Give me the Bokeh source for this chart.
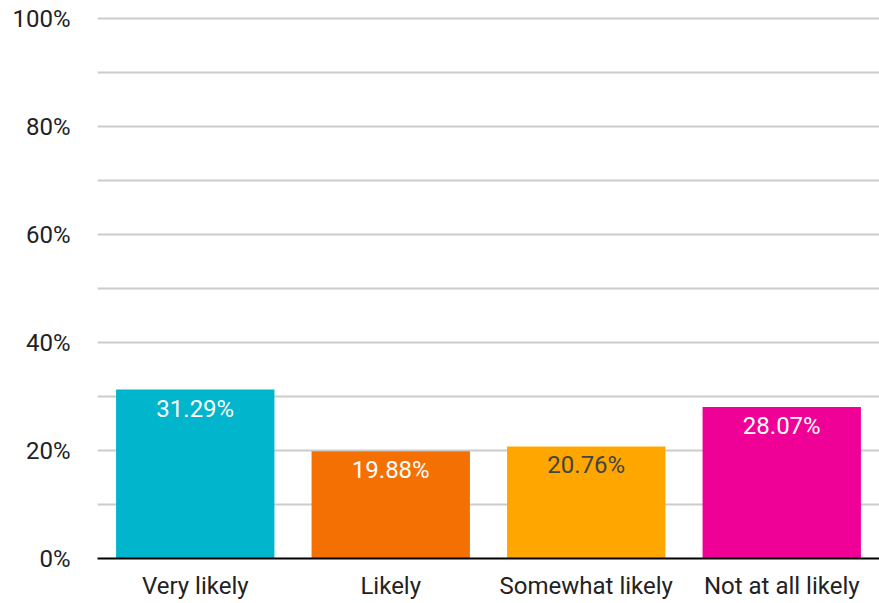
from bokeh.plotting import figure
from bokeh.models import ColumnDataSource, FactorRange, Range1d, FixedTicker, PrintfTickFormatter
from bokeh.core.properties import value
from bokeh.embed import file_html
from bokeh.resources import INLINE

categories = ["Very likely", "Likely", "Somewhat likely", "Not at all likely"]
percentages = [31.29, 19.88, 20.76, 28.07]
bar_colors = ["#00B5CC", "#F57002", "#FFA600", "#EF0096"]
label_colors = ["#FFFFFF", "#FFFFFF", "#444444", "#FFFFFF"]
y_major_ticks = [0, 20, 40, 60, 80, 100]
y_minor_ticks = [10, 30, 50, 70, 90]

FONT = "Roboto"

src = ColumnDataSource(dict(
    cat=categories,
    val=percentages,
    color=bar_colors,
    lcolor=label_colors,
    label=[f"{v:.2f}%" for v in percentages],
))

p = figure(
    x_range=FactorRange(*categories, range_padding=0),
    y_range=Range1d(0, 100.4),
    width=879, height=603,
    output_backend="svg", toolbar_location=None,
    min_border_left=97, min_border_right=0, min_border_top=16, min_border_bottom=45,
)
p.outline_line_color = None
p.background_fill_color = "white"

p.vbar(x="cat", top="val", width=0.81, color="color", line_color=None, source=src)
p.text(x="cat", y="val", text="label", text_color="lcolor", source=src,
       text_align="center", text_baseline="top", y_offset=5,
       text_font=value(FONT), text_font_size="24px")

# grid
p.xgrid.grid_line_color = None
p.ygrid.grid_line_color = "#CCCCCC"
p.ygrid.grid_line_width = 2
p.ygrid.minor_grid_line_color = "#CCCCCC"
p.ygrid.minor_grid_line_width = 2

ticker = FixedTicker(ticks=y_major_ticks, minor_ticks=y_minor_ticks)
p.yaxis.ticker = ticker
p.ygrid.ticker = ticker
p.yaxis.formatter = PrintfTickFormatter(format="%d%%")
p.yaxis.axis_line_color = None
p.yaxis.major_tick_line_color = None
p.yaxis.minor_tick_line_color = None
p.yaxis.major_label_standoff = 21
p.yaxis.major_label_text_font = FONT
p.yaxis.major_label_text_font_size = "24px"
p.yaxis.major_label_text_color = "#222222"

p.xaxis.axis_line_color = "black"
p.xaxis.axis_line_width = 2
p.xaxis.major_tick_line_color = None
p.xaxis.minor_tick_line_color = None
p.xaxis.major_label_standoff = 7
p.xaxis.major_label_text_font = FONT
p.xaxis.major_label_text_font_size = "24px"
p.xaxis.major_label_text_color = "#222222"

open("out.html", "w").write(file_html(p, INLINE))
